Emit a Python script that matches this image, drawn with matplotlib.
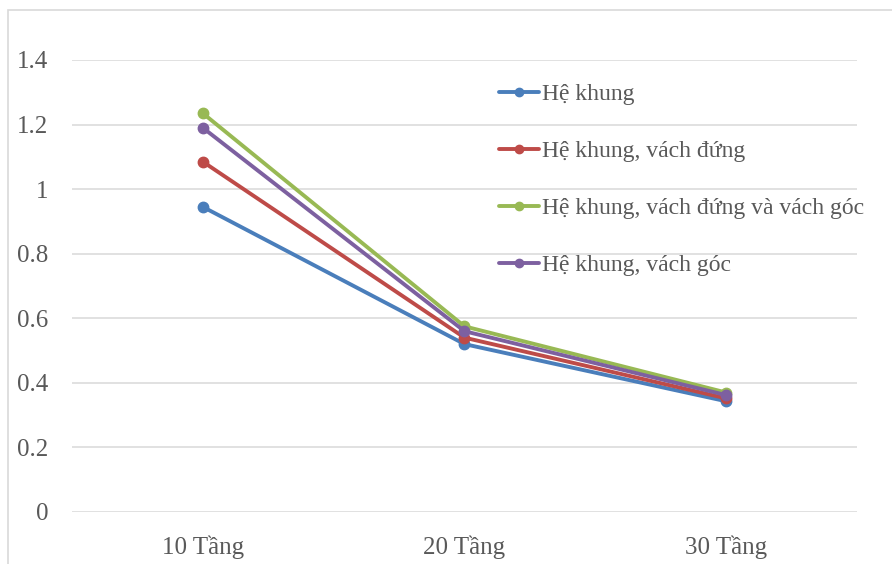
import matplotlib.pyplot as plt
from matplotlib.patches import Rectangle

plt.rcParams['font.family'] = ['Liberation Serif', 'DejaVu Serif']

# Số tầng và hệ số của từng hệ kết cấu
categories = ['10 Tầng', '20 Tầng', '30 Tầng']
he_khung = [0.945, 0.52, 0.343]
khung_vach_dung = [1.085, 0.54, 0.352]
khung_vach_dung_goc = [1.235, 0.575, 0.370]
khung_vach_goc = [1.19, 0.56, 0.362]

series = [
    ('Hệ khung', he_khung, '#4A7EBB'),
    ('Hệ khung, vách đứng', khung_vach_dung, '#BE4B48'),
    ('Hệ khung, vách đứng và vách góc', khung_vach_dung_goc, '#98B954'),
    ('Hệ khung, vách góc', khung_vach_goc, '#7D60A0'),
]

fig = plt.figure(figsize=(8.92, 5.64), dpi=100)
ax = fig.add_axes([72 / 892, 1 - 512 / 564, (857 - 72) / 892, (512 - 60) / 564])

# khung viền của biểu đồ
fig.patches.append(Rectangle((8 / 892, -0.05), 1.0, 1 - 10 / 564 + 0.05,
                             transform=fig.transFigure, fill=False,
                             edgecolor='#D9D9D9', linewidth=1.2))

x = range(len(categories))
for label, vals, color in series:
    ax.plot(x, vals, color=color, linewidth=2.8, marker='o', markersize=7.5,
            label=label, solid_capstyle='round')

ax.set_xlim(-0.5, 2.5)
ax.set_ylim(0, 1.4)
ax.set_yticks([0, 0.2, 0.4, 0.6, 0.8, 1.0, 1.2, 1.4])
ax.set_yticklabels(['0', '0.2', '0.4', '0.6', '0.8', '1', '1.2', '1.4'])
ax.set_xticks(list(x))
ax.set_xticklabels(categories)
ax.tick_params(length=0, labelsize=18, labelcolor='#595959')
ax.tick_params(axis='y', pad=17)
ax.tick_params(axis='x', pad=17)
ax.yaxis.grid(True, color='#D9D9D9', linewidth=1.1)
ax.set_axisbelow(True)
for s in ax.spines.values():
    s.set_visible(False)

leg = ax.legend(loc='upper left', bbox_to_anchor=(0.532, 0.968), frameon=False,
                fontsize=17, labelspacing=1.5, handlelength=1.7,
                handletextpad=0.1, borderaxespad=0, markerscale=0.8)
for t in leg.get_texts():
    t.set_color('#595959')

fig.savefig('out.png', dpi=100)
